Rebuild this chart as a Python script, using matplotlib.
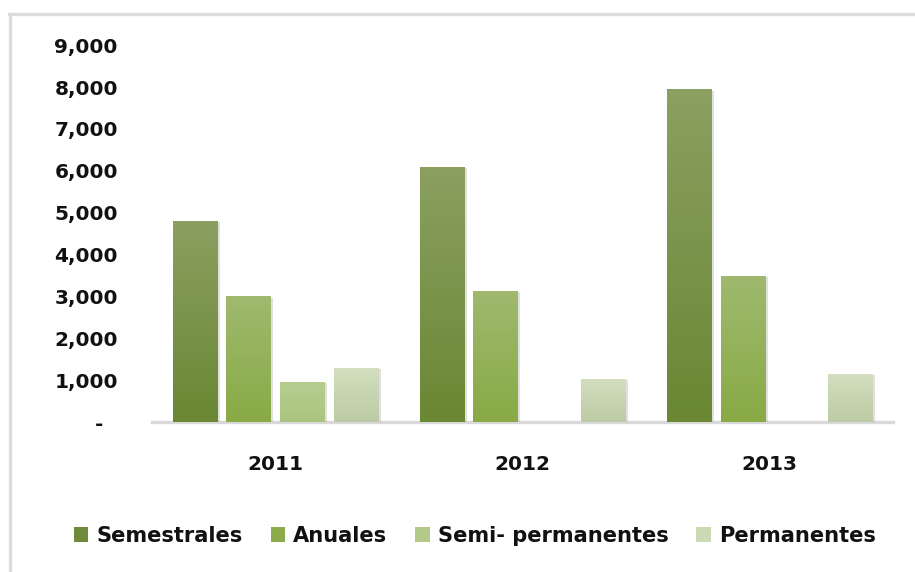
import numpy as np
import matplotlib
matplotlib.use('Agg')
import matplotlib.pyplot as plt
import matplotlib.colors as mcolors
from matplotlib.lines import Line2D
from matplotlib.patches import Patch
import matplotlib.patheffects as pe

# ==========================================
# datos
# ==========================================
years = ['2011', '2012', '2013']
series_names = ['Semestrales', 'Anuales', 'Semi- permanentes', 'Permanentes']
semestrales = [4800, 6100, 7950]
anuales = [3000, 3130, 3500]
semi_permanentes = [960, 0, 0]
permanentes = [1300, 1030, 1150]
yticks = [0, 1000, 2000, 3000, 4000, 5000, 6000, 7000, 8000, 9000]
ytick_labels = ['-  ', '1,000', '2,000', '3,000', '4,000', '5,000',
                '6,000', '7,000', '8,000', '9,000']

# colores (sólido para leyenda, degradado arriba -> abajo para barras)
solid_colors = ['#6f8a3a', '#8dab4a', '#b2c98a', '#ccd9b5']
grad_colors = [('#8ba061', '#6a8733'),
               ('#a0b96f', '#89aa45'),
               ('#b6cd90', '#aac57f'),
               ('#d3dfbe', '#bccaa5')]

plt.rcParams['font.family'] = 'DejaVu Sans'

fig = plt.figure(figsize=(9.15, 5.72), dpi=100)
ax = fig.add_axes([0.166, 0.262, 0.810, 0.659])

x = np.arange(len(years))
width = 0.179
step = 0.2175
all_series = [semestrales, anuales, semi_permanentes, permanentes]

for i, (vals, name) in enumerate(zip(all_series, series_names)):
    offs = (i - 1.5) * step
    bars = ax.bar(x + offs, vals, width=width, color=solid_colors[i],
                  label=name, zorder=2, linewidth=0)
    top_c, bot_c = grad_colors[i]
    cmap = mcolors.LinearSegmentedColormap.from_list('g%d' % i, [bot_c, top_c])
    grad = np.linspace(0, 1, 256).reshape(-1, 1)
    for rect in bars:
        h = rect.get_height()
        if h <= 0:
            rect.set_visible(False)
            continue
        rect.set_path_effects([pe.SimplePatchShadow(offset=(2, -1), shadow_rgbFace='#999999', alpha=0.3),
                               pe.Normal()])
        x0 = rect.get_x()
        im = ax.imshow(grad, cmap=cmap, origin='lower', aspect='auto',
                       extent=(x0, x0 + rect.get_width(), 0, h), zorder=3)
        im.set_clip_path(rect)

ax.set_xlim(-0.5, 2.5)
ax.set_ylim(0, 9000)

for s in ['top', 'right', 'left']:
    ax.spines[s].set_visible(False)
ax.spines['bottom'].set_color('#d9d9d9')
ax.spines['bottom'].set_linewidth(2.4)
ax.spines['bottom'].set_zorder(1)

ax.set_yticks(yticks)
ax.set_yticklabels(ytick_labels, fontsize=14.5, fontweight='bold', color='#111111')
ax.set_xticks(x)
ax.set_xticklabels(years, fontsize=14.5, fontweight='bold', color='#111111')
ax.tick_params(axis='y', length=0, pad=24.5)
ax.tick_params(axis='x', length=0, pad=24)

handles = [Patch(facecolor=c, edgecolor='none') for c in solid_colors]
leg = fig.legend(handles=handles, labels=series_names, loc='center',
                 bbox_to_anchor=(0.519, 0.063), ncol=4, frameon=False,
                 prop={'size': 15.1, 'weight': 'bold'},
                 handlelength=0.7, handleheight=0.7, handletextpad=0.38,
                 columnspacing=1.33, labelcolor='#111111')

# marco gris (borde superior e izquierdo)
fig.add_artist(Line2D([9 / 915, 1], [1 - 14 / 572, 1 - 14 / 572],
                      transform=fig.transFigure, color='#dcdcdc', lw=2.4))
fig.add_artist(Line2D([10 / 915, 10 / 915], [0, 1 - 14 / 572],
                      transform=fig.transFigure, color='#dcdcdc', lw=2.4))

fig.savefig('out.png', dpi=100)
